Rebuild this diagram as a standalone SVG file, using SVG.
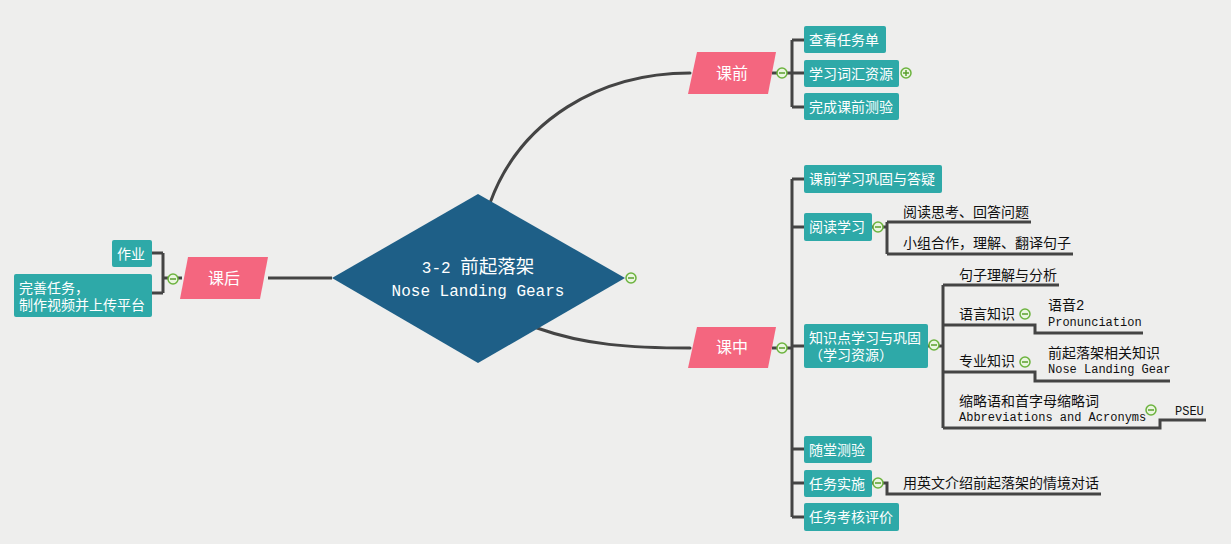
<svg xmlns="http://www.w3.org/2000/svg" width="1231" height="544" viewBox="0 0 1231 544">
<defs>
<style>
.bg{fill:#eeeeed}
.conn{fill:none;stroke:#444444;stroke-width:3;stroke-linecap:butt}
.curve{fill:none;stroke:#444444;stroke-width:3;stroke-linecap:round}
.main{fill:#f4667f}
.leaf{fill:#2ea9a8}
.root{fill:#1e5f87}
.wt{fill:#ffffff;font-family:"Liberation Sans","Noto Sans CJK SC",sans-serif;font-size:14px}
.mt{fill:#ffffff;font-family:"Liberation Sans","Noto Sans CJK SC",sans-serif;font-size:16px;text-anchor:middle}
.bt{fill:#111111;font-family:"Liberation Sans","Noto Sans CJK SC",sans-serif;font-size:14px}
.mono{fill:#111111;font-family:"Liberation Mono","Noto Sans CJK SC",monospace;font-size:12px}
.rt{fill:#ffffff;font-family:"Liberation Mono","Noto Sans CJK SC",monospace;font-size:16px;text-anchor:middle}
.tog circle{fill:#eaf5e0;stroke:#6cb33e;stroke-width:1.5}
.tog line{stroke:#5a9f2e;stroke-width:1.5}
</style>
</defs>
<rect class="bg" x="0" y="0" width="1231" height="544"/>

<g id="connectors">
<path class="curve" d="M490 203 C520 120 600 73 690 73"/>
<path class="curve" d="M537 328 C585 345 630 348 690 348"/>
<path class="conn" d="M268 278 H332"/>
<path class="conn" d="M772 73 H792 M792 40 V107 M792 40 H804 M792 73 H804 M792 107 H804"/>
<path class="conn" d="M772 348 H792 M792 179 V517 M792 179 H804 M792 227 H804 M792 346 H804 M792 449 H804 M792 483 H804 M792 517 H804"/>
<path class="conn" d="M872 227 H887 M887 222 V254 M887 222 H1031 M887 254 H1073"/>
<path class="conn" d="M928 346 H943 M943 285 V428 M943 285 H1059 M943 325 H1035 V333 H1143 M943 372 H1035 V381 H1170 M943 428 H1160 V420 H1206"/>
<path class="conn" d="M872 483 H887 V494 H1101"/>
<path class="conn" d="M182 278 H163 M163 253 V293 M152 253 H163 M152 293 H163"/>
</g>

<g id="root">
<polygon class="root" points="332,278 478,194 625,278 478,363"/>
<text class="rt" x="478" y="273">3-2 <tspan style="font-size:18.5px">前起落架</tspan></text>
<text class="rt" x="478" y="296">Nose Landing Gears</text>
</g>

<g id="kq">
<polygon class="main" points="697,52 776,52 768,94 688,94"/>
<text class="mt" x="732" y="79">课前</text>
</g>
<g id="kz">
<polygon class="main" points="697,327 776,327 768,368 688,368"/>
<text class="mt" x="732" y="353">课中</text>
</g>
<g id="kh">
<polygon class="main" points="188,257 268,257 260,299 180,299"/>
<text class="mt" x="224" y="284">课后</text>
</g>

<g id="kq1"><rect class="leaf" x="804" y="26" width="82" height="27" rx="2"/><text class="wt" x="809" y="44.5">查看任务单</text></g>
<g id="kq2"><rect class="leaf" x="804" y="60" width="95" height="27" rx="2"/><text class="wt" x="809" y="78.5">学习词汇资源</text></g>
<g id="kq3"><rect class="leaf" x="804" y="93" width="95" height="27" rx="2"/><text class="wt" x="809" y="111.5">完成课前测验</text></g>

<g id="kz1"><rect class="leaf" x="804" y="165" width="138" height="28" rx="2"/><text class="wt" x="809" y="184">课前学习巩固与答疑</text></g>
<g id="kz2"><rect class="leaf" x="804" y="213" width="68" height="28" rx="2"/><text class="wt" x="809" y="232">阅读学习</text></g>
<g id="kz3"><rect class="leaf" x="804" y="324" width="124" height="44" rx="2"/><text class="wt" x="809" y="343">知识点学习与巩固</text><text class="wt" x="809" y="360">（学习资源）</text></g>
<g id="kz4"><rect class="leaf" x="804" y="436" width="68" height="27" rx="2"/><text class="wt" x="809" y="454.5">随堂测验</text></g>
<g id="kz5"><rect class="leaf" x="804" y="470" width="68" height="27" rx="2"/><text class="wt" x="809" y="488.5">任务实施</text></g>
<g id="kz6"><rect class="leaf" x="804" y="503" width="95" height="28" rx="2"/><text class="wt" x="809" y="522">任务考核评价</text></g>

<g id="kh1"><rect class="leaf" x="112" y="240" width="40" height="27" rx="2"/><text class="wt" x="117" y="258.5">作业</text></g>
<g id="kh2"><rect class="leaf" x="14" y="274" width="138" height="43" rx="2"/><text class="wt" x="19" y="293">完善任务，</text><text class="wt" x="19" y="310">制作视频并上传平台</text></g>

<g id="yd1"><text class="bt" x="903" y="217">阅读思考、回答问题</text></g>
<g id="yd2"><text class="bt" x="903" y="248">小组合作，理解、翻译句子</text></g>
<g id="zs1"><text class="bt" x="959" y="280">句子理解与分析</text></g>
<g id="zs2"><text class="bt" x="959" y="319">语言知识</text></g>
<g id="zs2a"><text class="bt" x="1048" y="310">语音<tspan style="font-family:'Liberation Mono',monospace">2</tspan></text><text class="mono" x="1048" y="326">Pronunciation</text></g>
<g id="zs3"><text class="bt" x="959" y="366">专业知识</text></g>
<g id="zs3a"><text class="bt" x="1048" y="358">前起落架相关知识</text><text class="mono" x="1048" y="373">Nose Landing Gear</text></g>
<g id="zs4"><text class="bt" x="959" y="406">缩略语和首字母缩略词</text><text class="mono" x="959" y="421">Abbreviations and Acronyms</text></g>
<g id="zs4a"><text class="mono" x="1175" y="415">PSEU</text></g>
<g id="rw1"><text class="bt" x="903" y="488">用英文介绍前起落架的情境对话</text></g>

<g id="toggles" class="tog">
<circle cx="631" cy="278" r="5"/><line x1="628" y1="278" x2="634" y2="278"/>
<circle cx="782" cy="73" r="5"/><line x1="779" y1="73" x2="785" y2="73"/>
<circle cx="906" cy="73" r="5"/><line x1="903" y1="73" x2="909" y2="73"/><line x1="906" y1="70" x2="906" y2="76"/>
<circle cx="782" cy="348" r="5"/><line x1="779" y1="348" x2="785" y2="348"/>
<circle cx="878" cy="227" r="5"/><line x1="875" y1="227" x2="881" y2="227"/>
<circle cx="934" cy="345" r="5"/><line x1="931" y1="345" x2="937" y2="345"/>
<circle cx="1025" cy="314" r="5"/><line x1="1022" y1="314" x2="1028" y2="314"/>
<circle cx="1025" cy="362" r="5"/><line x1="1022" y1="362" x2="1028" y2="362"/>
<circle cx="1151" cy="410" r="5"/><line x1="1148" y1="410" x2="1154" y2="410"/>
<circle cx="878" cy="483" r="5"/><line x1="875" y1="483" x2="881" y2="483"/>
<circle cx="173" cy="279" r="5"/><line x1="170" y1="279" x2="176" y2="279"/>
</g>
</svg>
